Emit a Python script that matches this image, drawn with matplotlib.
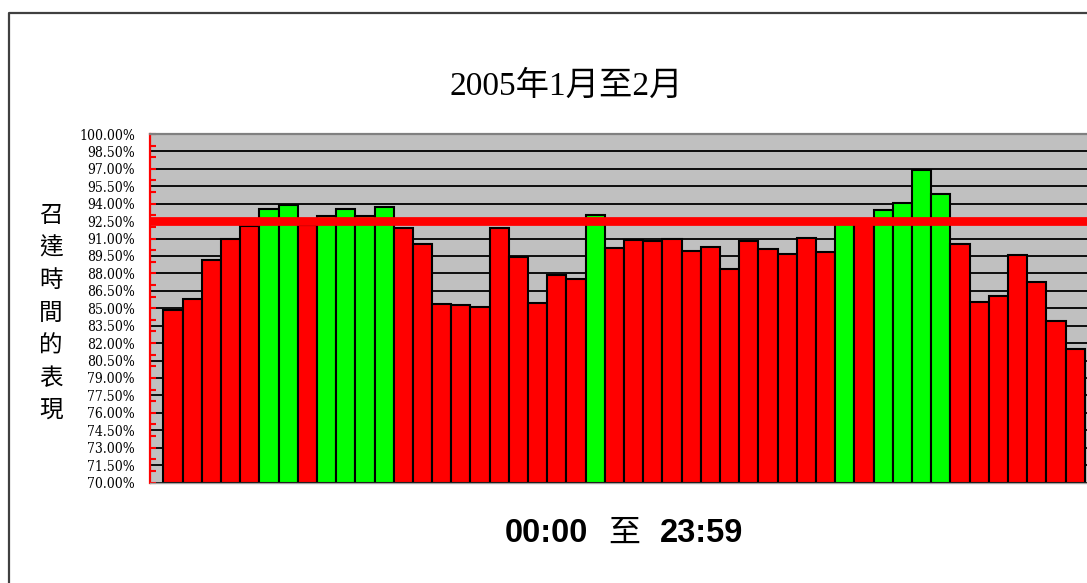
import numpy as np
import matplotlib
matplotlib.use("Agg")
import matplotlib.pyplot as plt
import matplotlib.font_manager as fm
from matplotlib.lines import Line2D
from matplotlib.ticker import FixedLocator, MultipleLocator

# ---------------- data ----------------
title_text = "2005年1月至2月"
ylabel_text = "召達時間的表現"
xlabel_parts = ["00:00", "至", "23:59"]
periods = list(range(1, 49))
values = [84.83, 85.83, 89.17, 90.92, 92.07, 93.51, 93.85, 92.13, 92.93, 93.56,
          92.96, 93.71, 91.93, 90.49, 85.37, 85.26, 85.09, 91.93, 89.43, 85.43,
          87.90, 87.53, 92.99, 90.20, 90.86, 90.83, 90.98, 89.89, 90.26, 88.36,
          90.78, 90.11, 89.63, 91.06, 89.86, 92.70, 92.30, 93.45, 94.08, 96.87,
          94.83, 90.55, 85.57, 86.03, 89.57, 87.24, 83.91, 81.49]
target = 92.5
y_min, y_max = 70.0, 100.0
ytick_values = [70.0, 71.5, 73.0, 74.5, 76.0, 77.5, 79.0, 80.5, 82.0, 83.5, 85.0,
                86.5, 88.0, 89.5, 91.0, 92.5, 94.0, 95.5, 97.0, 98.5, 100.0]
ytick_labels = [f"{v:.2f}%" for v in ytick_values]

# ---------------- fonts ----------------
def condensed_serif():
    for f in fm.fontManager.ttflist:
        cond = ("Condensed" in f.name or "ondensed" in str(f.stretch)
                or "Condensed" in f.fname)
        if ("Serif" in f.name and cond and f.style == "normal"
                and f.weight in (400, "normal", "regular", "book")
                and "Oblique" not in f.fname and "Italic" not in f.fname
                and "Bold" not in f.fname):
            return fm.FontProperties(fname=f.fname)
    return None

cond = condensed_serif()
tick_fp = cond if cond is not None else fm.FontProperties(family="Liberation Serif")

W, H = 1087, 583
fig = plt.figure(figsize=(W / 100, H / 100), dpi=100)
fx = lambda px: px / W
fy = lambda py: 1 - py / H

ax = fig.add_axes([fx(150), fy(482.5), 1 - fx(150), fy(134) - fy(482.5)])
ax.set_facecolor("#C0C0C0")

x = np.arange(len(periods))
vals = np.array(values)
colors = ["#00FF00" if v >= target else "#FF0000" for v in values]
ax.bar(x, vals - y_min, bottom=y_min, width=1.0, color=colors,
       edgecolor="black", linewidth=1.5, zorder=2)

ax.axhline(target, xmin=(154 - 150) / (1087 - 150), color="#FF0000", lw=6.3, zorder=3)

ax.set_xlim(-1.193, 47.61)
ax.set_ylim(y_min, y_max)
ax.yaxis.set_major_locator(FixedLocator(ytick_values))
ax.set_yticklabels(ytick_labels, fontproperties=tick_fp, fontsize=10)
ax.yaxis.set_minor_locator(MultipleLocator(1))
ax.yaxis.remove_overlapping_locs = False
ax.tick_params(axis="y", which="major", length=0, pad=10.8)
ax.tick_params(axis="y", which="minor", direction="in", length=4.3, width=1.5, color="#FF0000")
ax.tick_params(axis="x", which="both", bottom=False, labelbottom=False)
ax.grid(axis="y", which="major", color="black", lw=1.3, zorder=1)
ax.set_axisbelow(True)

ax.spines["left"].set_color("#FF0000")
ax.spines["left"].set_linewidth(1.6)
ax.spines["top"].set_color("#808080")
ax.spines["top"].set_linewidth(1.6)
ax.spines["bottom"].set_color("#A0A0A0")
ax.spines["bottom"].set_linewidth(1.0)
ax.spines["right"].set_visible(False)

# outer frame (clipped at right and bottom)
fig.add_artist(Line2D([fx(9), fx(9), 1.01], [-0.01, fy(12.5), fy(12.5)],
                      transform=fig.transFigure, color="#404040", lw=1.6))

# title
fig.text(fx(566), fy(95), title_text, ha="center", va="baseline", fontsize=24,
         family=["Liberation Serif", "Noto Sans CJK TC"])

# y label (vertical stacked characters)
fig.text(fx(51), fy(313), "\n".join(ylabel_text), ha="center", va="center",
         fontsize=17, family=["Noto Sans CJK TC"], linespacing=1.53)

# x label
fig.text(fx(546.5), fy(542), xlabel_parts[0], ha="center", va="baseline", fontsize=23.5,
         family=["Liberation Sans"], weight="bold")
fig.text(fx(624), fy(542), xlabel_parts[1], ha="center", va="baseline", fontsize=23,
         family=["Noto Sans CJK TC"])
fig.text(fx(701.5), fy(542), xlabel_parts[2], ha="center", va="baseline", fontsize=23.5,
         family=["Liberation Sans"], weight="bold")

fig.savefig("out.png", dpi=100, facecolor="white")
